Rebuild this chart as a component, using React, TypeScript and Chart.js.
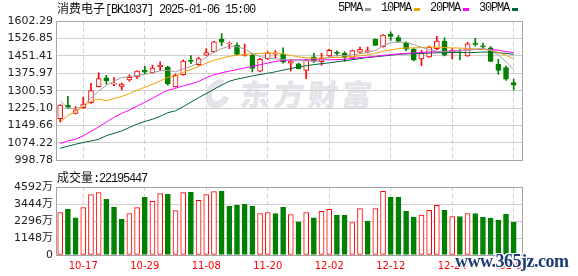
import React, { useEffect, useRef } from "react";
import { Chart, registerables } from "chart.js";

Chart.register(...registerables);

// ---------- data ----------
const titleName = "消费电子";
const titleCode = "[BK1037] 2025-01-06 15:00";
const volumeTitle = "成交量";
const lastVolume = 22195447;

const dates = [
  "10-14","10-15","10-16","10-17","10-18","10-21","10-22","10-23","10-24","10-25",
  "10-28","10-29","10-30","10-31","11-01","11-04","11-05","11-06","11-07","11-08",
  "11-11","11-12","11-13","11-14","11-15","11-18","11-19","11-20","11-21","11-22",
  "11-25","11-26","11-27","11-28","11-29","12-02","12-03","12-04","12-05","12-06",
  "12-09","12-10","12-11","12-12","12-13","12-16","12-17","12-18","12-19","12-20",
  "12-23","12-24","12-25","12-26","12-27","12-30","12-31","01-02","01-03","01-06",
];
const tickDates = ["10-17","10-29","11-08","11-20","12-02","12-12","12-24","01-06"];

const open = [
  1179.8,1236.8,1202.1,1227.2,1248.2,1318.1,1355.9,1329.0,1319.4,1347.5,
  1360.1,1389.4,1378.1,1404.5,1403.2,1317.3,1369.7,1433.4,1412.9,1454.8,
  1469.0,1522.7,1502.5,1496.7,1453.0,1453.5,1385.2,1438.9,1459.0,1457.7,
  1420.0,1417.1,1388.5,1447.2,1426.3,1451.4,1467.3,1461.9,1441.0,1467.3,
  1469.0,1522.7,1490.0,1545.7,1531.0,1508.0,1479.9,1438.0,1447.2,1482.9,
  1515.1,1469.0,1469.0,1451.4,1506.7,1494.2,1485.8,1415.8,1401.1,1336.2,
];
const high = [
  1240.0,1276.2,1231.4,1273.3,1332.0,1378.1,1366.8,1357.1,1333.0,1369.7,
  1387.0,1406.2,1411.6,1425.4,1407.4,1372.0,1433.8,1452.3,1445.0,1482.9,
  1514.3,1547.8,1510.9,1508.0,1502.0,1460.0,1441.0,1470.0,1474.5,1485.8,
  1434.7,1420.0,1436.7,1461.9,1461.9,1480.7,1473.2,1470.0,1476.6,1489.1,
  1489.1,1524.8,1543.6,1555.4,1539.4,1512.2,1485.0,1475.7,1493.3,1536.1,
  1529.0,1482.9,1478.7,1510.1,1526.9,1506.7,1491.2,1436.7,1407.4,1350.0,
];
const low = [
  1164.3,1224.3,1200.0,1224.3,1246.0,1317.0,1329.0,1322.3,1303.9,1341.6,
  1354.0,1373.9,1376.0,1387.7,1324.9,1316.0,1367.6,1417.1,1409.5,1453.5,
  1466.0,1495.4,1482.9,1455.6,1450.0,1382.3,1382.0,1434.7,1441.0,1420.0,
  1386.5,1395.0,1353.0,1422.1,1411.6,1449.3,1451.4,1427.1,1436.8,1464.0,
  1464.0,1495.4,1489.1,1518.5,1510.1,1473.2,1429.6,1408.7,1445.0,1478.7,
  1451.4,1438.0,1433.8,1449.3,1493.3,1484.0,1426.3,1371.0,1344.5,1303.9,
];
const close = [
  1238.5,1228.4,1217.6,1242.7,1301.4,1353.0,1343.3,1333.0,1329.0,1358.4,
  1385.2,1381.0,1399.0,1410.3,1329.9,1367.6,1428.4,1427.1,1439.7,1466.1,
  1512.2,1510.1,1506.7,1457.7,1456.0,1397.0,1436.7,1464.8,1463.0,1424.2,
  1428.4,1396.1,1433.0,1430.0,1440.9,1475.7,1461.9,1445.1,1474.5,1479.5,
  1474.5,1496.7,1541.5,1535.2,1514.3,1480.8,1433.8,1461.9,1488.3,1515.1,
  1454.8,1475.7,1464.0,1503.8,1500.5,1490.0,1427.1,1388.5,1350.0,1324.9,
];

const ma5 = [
  1256.5,1225.1,1221.8,1235.6,1269.1,1298.4,1323.6,1342.5,1357.1,1362.2,
  1366.3,1371.0,1378.9,1386.4,1388.5,1382.3,1394.8,1405.3,1420.0,1445.1,
  1468.2,1482.9,1493.3,1491.2,1480.8,1461.9,1448.1,1440.9,1438.0,1435.5,
  1433.8,1431.3,1429.6,1427.1,1430.4,1447.2,1453.5,1452.3,1455.6,1460.6,
  1466.1,1474.5,1495.4,1508.0,1510.9,1510.1,1499.6,1488.3,1478.7,1471.5,
  1469.0,1471.5,1473.2,1476.6,1479.5,1482.9,1476.6,1455.6,1426.3,1391.9,
];
const ma10 = [
  1164.3,1193.6,1210.4,1231.4,1254.4,1264.9,1256.5,1267.0,1275.4,1288.0,
  1302.6,1315.2,1327.8,1342.5,1359.2,1363.4,1380.0,1392.7,1405.3,1420.0,
  1432.6,1440.9,1449.3,1454.4,1457.7,1459.8,1461.9,1464.0,1463.2,1459.8,
  1453.5,1447.2,1443.1,1440.9,1440.9,1443.9,1445.1,1446.4,1448.1,1451.4,
  1455.6,1461.9,1470.3,1476.6,1482.9,1485.8,1485.8,1487.1,1489.1,1489.1,
  1487.1,1485.8,1485.0,1482.9,1481.6,1479.9,1474.5,1466.1,1453.5,1436.7,
];
const ma20 = [
  1071.8,1083.5,1091.0,1105.7,1124.5,1143.4,1164.3,1185.3,1202.0,1216.7,
  1233.5,1250.3,1267.0,1285.9,1302.6,1311.0,1321.5,1329.9,1340.4,1357.1,
  1369.7,1378.1,1385.2,1391.9,1399.0,1405.3,1412.9,1420.0,1427.1,1431.3,
  1433.8,1434.0,1434.0,1434.0,1434.2,1434.5,1435.0,1436.7,1439.7,1443.9,
  1446.4,1449.3,1453.5,1456.4,1459.8,1461.9,1464.0,1466.1,1468.2,1469.0,
  1470.3,1472.4,1474.5,1477.4,1478.7,1479.5,1478.7,1475.7,1470.3,1464.8,
];
const ma30 = [
  1051.2,1060.4,1068.8,1076.3,1082.6,1090.2,1105.7,1116.1,1126.6,1141.3,
  1156.0,1167.3,1177.0,1189.5,1205.4,1213.4,1231.4,1251.0,1270.0,1288.0,
  1306.8,1324.4,1341.6,1350.8,1357.1,1364.7,1370.5,1376.0,1382.3,1389.8,
  1396.6,1403.2,1408.7,1413.3,1417.5,1421.2,1425.9,1430.1,1434.7,1439.7,
  1443.9,1447.2,1450.6,1454.4,1458.1,1459.8,1461.0,1461.9,1463.6,1464.8,
  1465.3,1466.1,1466.1,1465.3,1466.1,1468.2,1466.9,1464.8,1461.9,1457.7,
];

// volume in 万 (10k shares)
const volume = [
  2867,3091,2509,3203,4077,4211,3763,3226,2419,2800,
  3203,3898,3629,4144,4099,3002,4211,4234,3696,4077,
  4278,4301,3293,3360,3427,3293,2800,2867,2800,3226,
  2733,2240,2867,2509,2957,3091,2688,2688,2195,3136,
  2285,3136,4301,3898,3898,2957,2554,2688,3024,3360,
  3024,2598,2598,2800,2800,2554,2486,2352,2755,2219.5447,
];

const priceTicks = [998.78, 1074.22, 1149.66, 1225.10, 1300.53, 1375.97, 1451.41, 1526.85, 1602.29];
const volumeTicks = [0, 1148, 2296, 3444, 4592];
const maNames = ["5PMA", "10PMA", "20PMA", "30PMA"];
const watermarkText = "东方财富";
const siteText = "www.365jz.com";

// ---------- styles ----------
const RED = "#ff0000";
const GREEN = "#008000";
const MA_COLORS = ["#a0a0a0", "#f2a100", "#ff00ff", "#00663a"];
const AXIS_FONT = "'DejaVu Sans', 'Noto Sans CJK SC', sans-serif";
const MONO = "'Liberation Mono', monospace";
const CJK = "'Noto Sans CJK SC', sans-serif";

const framePlugin = {
  id: "frame",
  beforeDatasetsDraw(chart: any) {
    const { ctx, chartArea: a } = chart;
    ctx.save();
    ctx.strokeStyle = "#a3a3a3";
    ctx.lineWidth = 1;
    ctx.strokeRect(
      Math.round(a.left) + 0.5,
      Math.round(a.top) + 0.5,
      Math.round(a.right - a.left),
      Math.round(a.bottom - a.top)
    );
    ctx.restore();
  },
};

export default function App() {
  const priceRef = useRef<HTMLCanvasElement>(null);
  const volRef = useRef<HTMLCanvasElement>(null);

  useEffect(() => {
    const N = dates.length;
    const idx = dates.map((_, i) => i);
    const isUp = close.map((c, i) => c >= open[i]);
    const volUp = close.map((c, i) => (i === 0 ? c >= open[i] : c >= close[i - 1]));
    const tickIdx = tickDates.map((d) => dates.indexOf(d));

    const xAxis = (labels: boolean): any => ({
      type: "linear",
      min: -0.55,
      max: N + 0.08,
      offset: false,
      afterBuildTicks: (s: any) => {
        s.ticks = tickIdx.map((v) => ({ value: v }));
      },
      afterFit: (s: any) => {
        s.height = labels ? 21 : 0;
      },
      grid: { color: "#d0d0d0", drawTicks: false, offset: false, lineWidth: 1, borderDash: [4, 3] },
      border: { display: false, dash: [4, 3] },
      ticks: {
        display: labels,
        autoSkip: false,
        maxRotation: 0,
        minRotation: 0,
        padding: 5,
        color: RED,
        font: { family: AXIS_FONT, size: 10 },
        callback: (v: any) => dates[Math.round(v)] ?? "",
      },
    });

    const yAxis = (min: number, max: number, ticks: number[], fmt: (v: number) => string): any => ({
      type: "linear",
      position: "left",
      min,
      max,
      afterBuildTicks: (s: any) => {
        s.ticks = ticks.map((v) => ({ value: v }));
      },
      afterFit: (s: any) => {
        s.width = 56;
      },
      grid: { color: "#d0d0d0", drawTicks: false, lineWidth: 1 },
      border: { display: false },
      ticks: {
        padding: 3,
        autoSkip: false,
        color: "#222",
        font: { family: AXIS_FONT, size: 11 },
        callback: (v: any) => fmt(Number(v)),
      },
    });

    const maSets = [ma5, ma10, ma20, ma30].map((arr, k) => ({
      type: "line" as const,
      data: idx.map((i) => ({ x: i, y: arr[i] })),
      borderColor: MA_COLORS[k],
      borderWidth: 1,
      pointRadius: 0,
      tension: 0,
      order: k,
    }));

    const priceChart = new Chart(priceRef.current as HTMLCanvasElement, {
      type: "bar",
      data: {
        datasets: [
          ...maSets,
          {
            type: "bar",
            data: idx.map((i) => ({ x: i, y: [Math.min(open[i], close[i]), Math.max(open[i], close[i])] })),
            backgroundColor: isUp.map((u) => (u ? "#ffffff" : GREEN)),
            borderColor: isUp.map((u) => (u ? RED : GREEN)),
            borderWidth: 1,
            borderSkipped: false,
            barThickness: 5,
            grouped: false,
            minBarLength: 1,
            order: 10,
          },
          {
            type: "bar",
            data: idx.map((i) => ({ x: i, y: [low[i], high[i]] })),
            backgroundColor: isUp.map((u) => (u ? RED : GREEN)),
            borderWidth: 0,
            barThickness: 1,
            grouped: false,
            order: 11,
          },
        ] as any,
      },
      options: {
        responsive: false,
        animation: false,
        events: [],
        layout: { padding: { left: 0, right: 56, top: 21, bottom: 5 } },
        plugins: { legend: { display: false }, tooltip: { enabled: false } },
        scales: {
          x: xAxis(false),
          y: yAxis(priceTicks[0], priceTicks[priceTicks.length - 1], priceTicks, (v) => v.toFixed(2)),
        },
      } as any,
      plugins: [framePlugin],
    });

    const volChart = new Chart(volRef.current as HTMLCanvasElement, {
      type: "bar",
      data: {
        datasets: [
          {
            type: "bar",
            data: idx.map((i) => ({ x: i, y: volume[i] })),
            backgroundColor: volUp.map((u) => (u ? "#ffffff" : GREEN)),
            borderColor: volUp.map((u) => (u ? RED : GREEN)),
            borderWidth: 1,
            borderSkipped: false,
            barThickness: 5,
            grouped: false,
          },
        ] as any,
      },
      options: {
        responsive: false,
        animation: false,
        events: [],
        layout: { padding: { left: 0, right: 56, top: 17, bottom: 0 } },
        plugins: { legend: { display: false }, tooltip: { enabled: false } },
        scales: {
          x: xAxis(true),
          y: yAxis(volumeTicks[0], volumeTicks[volumeTicks.length - 1], volumeTicks, (v) =>
            v === 0 ? "0" : `${v}万`
          ),
        },
      } as any,
      plugins: [framePlugin],
    });

    return () => {
      priceChart.destroy();
      volChart.destroy();
    };
  }, []);

  return (
    <div
      style={{
        position: "fixed",
        left: 0,
        top: 0,
        width: 578,
        height: 276,
        background: "#fff",
        overflow: "hidden",
        color: "#111",
      }}
    >
      {/* background watermark */}
      <div
        style={{
          position: "absolute",
          left: 204,
          top: 81,
          width: 14,
          height: 12,
          border: "7px solid #e3e3e9",
          borderRightColor: "transparent",
          borderRadius: "50%",
          transform: "rotate(-30deg) skewX(-14deg)",
        }}
      />
      <div
        style={{
          position: "absolute",
          left: 240,
          top: 77,
          fontFamily: CJK,
          fontWeight: 900,
          fontSize: 30,
          lineHeight: "32px",
          letterSpacing: "4px",
          color: "#e3e3e9",
          whiteSpace: "nowrap",
          transform: "skewX(-6deg)",
        }}
      >
        {watermarkText}
      </div>

      <canvas
        ref={priceRef}
        width={578}
        height={170}
        style={{ position: "absolute", left: 0, top: 0, width: 578, height: 170 }}
      />
      <canvas
        ref={volRef}
        width={578}
        height={106}
        style={{ position: "absolute", left: 0, top: 170, width: 578, height: 106 }}
      />

      {/* title */}
      <div
        style={{
          position: "absolute",
          left: 57,
          top: 1,
          fontSize: 12,
          lineHeight: "14px",
          whiteSpace: "nowrap",
          color: "#111",
        }}
      >
        <span style={{ fontFamily: CJK }}>{titleName}</span>
        <span style={{ fontFamily: MONO, letterSpacing: "-1.2px" }}>{titleCode}</span>
      </div>

      {/* legend */}
      <div
        style={{
          position: "absolute",
          left: 338,
          top: 1,
          display: "flex",
          alignItems: "center",
          fontFamily: MONO,
          fontSize: 12,
          lineHeight: "14px",
          whiteSpace: "nowrap",
          color: "#111",
        }}
      >
        {maNames.map((n, k) => (
          <span key={n} style={{ display: "flex", alignItems: "center", marginRight: 10 }}>
            <span style={{ letterSpacing: "-1.2px" }}>{n}</span>
            <span
              style={{
                display: "inline-block",
                width: 6,
                height: 3,
                marginLeft: 3,
                marginTop: 2,
                background: MA_COLORS[k],
              }}
            />
          </span>
        ))}
      </div>

      {/* volume title */}
      <div
        style={{
          position: "absolute",
          left: 57,
          top: 170,
          fontSize: 12,
          lineHeight: "14px",
          whiteSpace: "nowrap",
          color: "#111",
        }}
      >
        <span style={{ fontFamily: CJK }}>{volumeTitle}</span>
        <span style={{ fontFamily: MONO, letterSpacing: "-1.2px" }}>:{lastVolume}</span>
      </div>

      {/* site watermark */}
      <div
        style={{
          position: "absolute",
          left: 455,
          top: 251,
          fontFamily: "'Liberation Serif', serif",
          fontWeight: 700,
          fontSize: 18,
          lineHeight: "20px",
          letterSpacing: "-0.5px",
          color: "#1d3c74",
          whiteSpace: "nowrap",
          textShadow: "1px 1px 0 #fff, -1px -1px 0 #fff, 1px -1px 0 #fff, -1px 1px 0 #fff",
        }}
      >
        {siteText}
      </div>
    </div>
  );
}
